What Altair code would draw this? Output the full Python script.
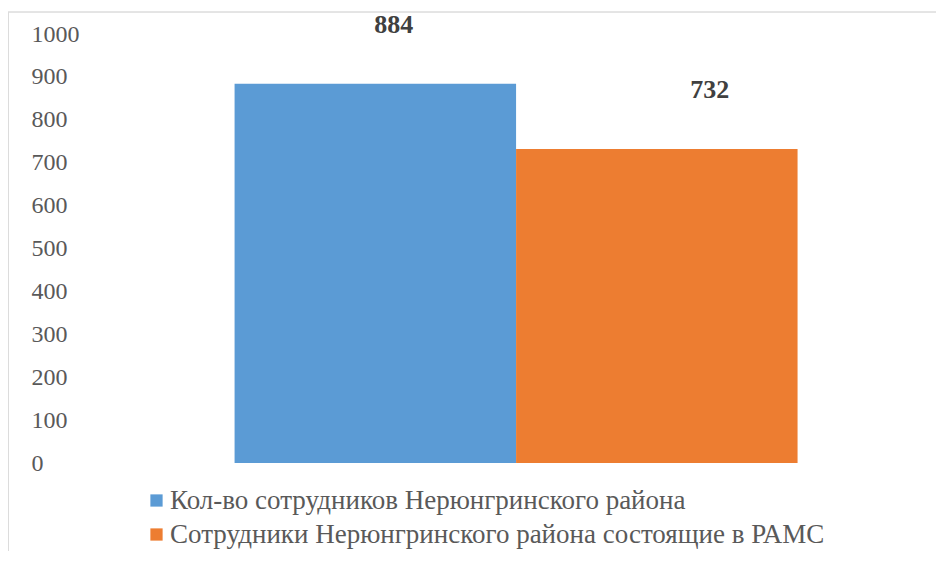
import altair as alt
import pandas as pd

series = [
    "Кол-во сотрудников Нерюнгринского района",
    "Сотрудники Нерюнгринского района состоящие в РАМС",
]
values = [884, 732]
colors = ["#5B9BD5", "#ED7D31"]
y_ticks = [0, 100, 200, 300, 400, 500, 600, 700, 800, 900, 1000]

df = pd.DataFrame({"series": series, "value": values})

SERIF = "'Liberation Serif', 'Times New Roman', serif"

x_enc = alt.X("series:N", sort=series, axis=None,
              scale=alt.Scale(paddingInner=0, paddingOuter=0.421, align=0.61))
y_enc = alt.Y("value:Q",
              scale=alt.Scale(domain=[0, 1000], nice=False),
              axis=alt.Axis(values=y_ticks, title=None, grid=False, domain=False,
                            ticks=False, tickSize=0, labelPadding=59, labelAlign="left",
                            format="d",
                            labelFont=SERIF, labelFontSize=24, labelColor="#595959"))

bars = alt.Chart(df).mark_bar().encode(
    x=x_enc,
    y=y_enc,
    color=alt.Color("series:N", sort=series,
                    scale=alt.Scale(domain=series, range=colors),
                    legend=alt.Legend(orient="none", legendX=53, legendY=453, title=None,
                                      symbolType="square", symbolSize=150,
                                      symbolStrokeWidth=0, labelFont=SERIF,
                                      labelFontSize=27, labelColor="#595959",
                                      labelOffset=0, rowPadding=6, padding=0,
                                      labelLimit=900)),
)

def label_layer(name, dx):
    return alt.Chart(df).transform_filter(alt.datum.series == name).mark_text(
        dx=dx, dy=-59, baseline="middle", align="center", font=SERIF,
        fontSize=26, fontWeight="bold", color="#404040",
    ).encode(x=alt.X("series:N", sort=series), y="value:Q", text="value:Q")

lab1 = label_layer(series[0], 18.5)
lab2 = label_layer(series[1], 53)

frame_top = alt.Chart(df).mark_rule(color="#dcdcdc", strokeWidth=1).encode(
    x=alt.value(-82), x2=alt.value(860), y=alt.value(-22))
frame_left = alt.Chart(df).mark_rule(color="#dcdcdc", strokeWidth=1).encode(
    x=alt.value(-81.5), y=alt.value(-22), y2=alt.value(530))

chart = alt.layer(frame_top, frame_left, bars, lab1, lab2).properties(
    width=800, height=429,
    autosize=alt.AutoSizeParams(type="none"),
    padding={"left": 82, "top": 26, "right": 46, "bottom": 88},
).configure(font=SERIF).configure_view(stroke=None)

chart.save("out.html", embed_options={"renderer": "svg", "actions": False})
